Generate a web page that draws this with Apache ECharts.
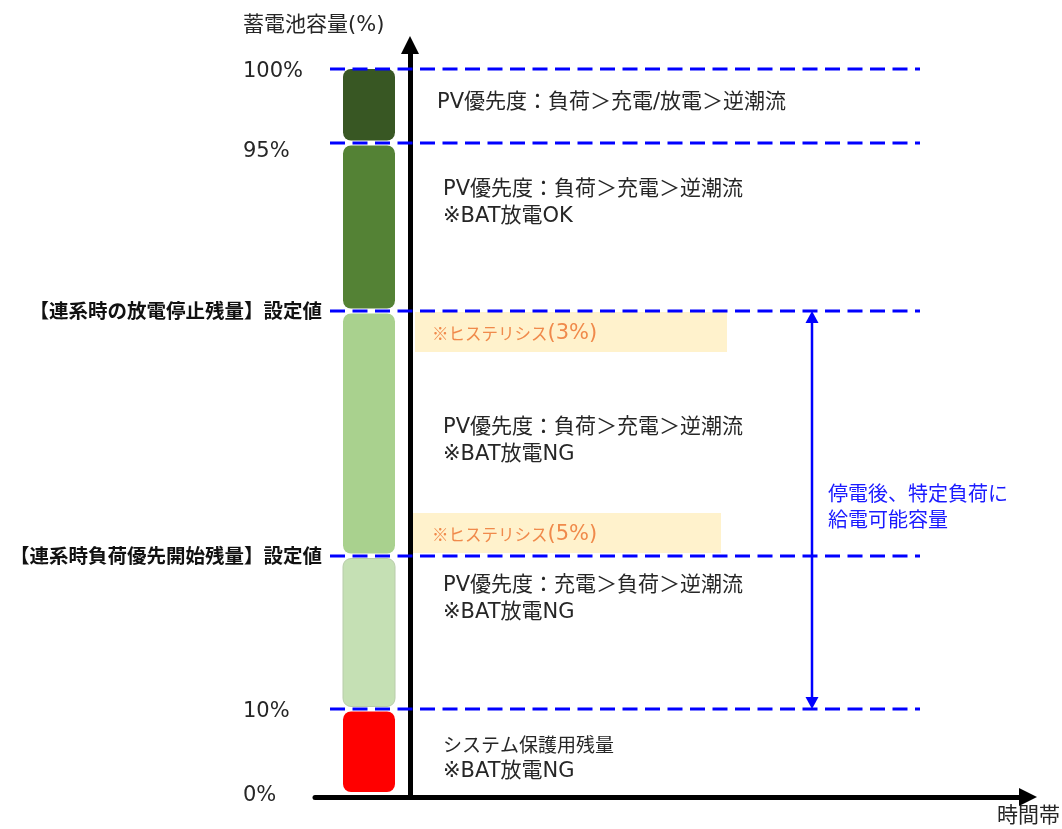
<!DOCTYPE html>
<html>
<head>
<meta charset="utf-8">
<script src="https://cdn.jsdelivr.net/npm/echarts@6/dist/echarts.min.js"></script>
<style>html,body{margin:0;padding:0;background:#fff}#c{width:1062px;height:829px}</style>
</head>
<body>
<div id="c"></div>
<script>
// ---- data (schematic capacity scale, 0% at 0) ----
const levelValues = [0, 84, 237, 482, 650, 724];
const levelLabels = ['0%', '10%', '【連系時負荷優先開始残量】設定値', '【連系時の放電停止残量】設定値', '95%', '100%'];
const segmentNames = ['システム保護用残量', '負荷優先', '放電停止', '放電OK', '充放電'];
const hysteresisBands = [[441, 481], [240, 280]];
const hysteresisLabels = ['※ヒステリシス(3%)', '※ヒステリシス(5%)'];
const zoneNotes = [
  ['PV優先度：負荷＞充電/放電＞逆潮流'],
  ['PV優先度：負荷＞充電＞逆潮流', '※BAT放電OK'],
  ['PV優先度：負荷＞充電＞逆潮流', '※BAT放電NG'],
  ['PV優先度：充電＞負荷＞逆潮流', '※BAT放電NG'],
  ['システム保護用残量', '※BAT放電NG']
];
const zoneNoteLevels = [692, 605, 367, 209, 50];
const backupRange = [84, 482];
const backupNote = ['停電後、特定負荷に', '給電可能容量'];
const yAxisTitle = '蓄電池容量(%)';
const xAxisTitle = '時間帯';

// ---- styles ----
const FONT = "'DejaVu Sans', 'Noto Sans CJK JP', sans-serif";
const CJK = "'Noto Sans CJK JP', sans-serif";
const segColors = ['#FF0000', '#C5E0B4', '#A9D18E', '#548235', '#385723'];
const TEXT = '#262626';

const segData = [];
for (let i = 0; i < levelValues.length - 1; i++) segData.push([levelValues[i], levelValues[i + 1], i]);
const topLevel = levelValues[levelValues.length - 1];

function noteText(lines) {
  return lines.map(function (l) { return /^[ァ-ヶー]/.test(l) ? '{k|' + l + '}' : '{n|' + l + '}'; }).join('\n');
}

const chart = echarts.init(document.getElementById('c'));
const option = {
  animation: false,
  title: {
    text: yAxisTitle, left: 238, top: 10,
    textStyle: { fontSize: 21, fontWeight: 'normal', color: TEXT, fontFamily: FONT }
  },
  grid: { left: 315, right: 34, top: 45, bottom: 32, outerBoundsMode: 'none' },
  xAxis: {
    type: 'value', min: -95, max: 618,
    axisLine: { onZero: false, symbol: ['none', 'triangle'], symbolSize: [18, 18], lineStyle: { color: '#000', width: 5 } },
    axisTick: { show: false }, axisLabel: { show: false }, splitLine: { show: false },
    name: xAxisTitle, nameLocation: 'end', nameGap: 32,
    nameTextStyle: { align: 'right', verticalAlign: 'top', padding: [9, 0, 0, 0], fontSize: 21, color: TEXT, fontFamily: FONT }
  },
  yAxis: {
    type: 'value', min: -4, max: 748,
    axisLine: { show: true, onZero: true, symbol: ['none', 'triangle'], symbolSize: [18, 18], lineStyle: { color: '#000', width: 5 } },
    axisTick: { show: false }, splitLine: { show: false },
    axisLabel: {
      customValues: levelValues, margin: -7, align: 'right',
      formatter: function (v) {
        const i = levelValues.indexOf(v);
        const t = levelLabels[i];
        if (t.indexOf('【') === 0) return '{b|' + t + '}';
        if (t === '95%') return '{q|' + t + '}';
        return '{p|' + t + '}';
      },
      rich: {
        p: { width: 79, align: 'left', fontSize: 21, color: TEXT, fontFamily: FONT, padding: [5, 0, 0, 0] },
        q: { width: 79, align: 'left', fontSize: 21, color: TEXT, fontFamily: FONT, padding: [17, 0, 0, 0] },
        b: { fontSize: 19.5, fontWeight: 'bold', color: '#111', fontFamily: CJK }
      }
    }
  },
  series: [
    {
      type: 'custom', name: 'segments', data: segData,
      renderItem: function (params, api) {
        const lo = api.value(0), hi = api.value(1), idx = api.value(2);
        const a = api.coord([-67, hi]);
        const b = api.coord([-15, lo]);
        const top = a[1] + (hi === topLevel ? 0 : 2.5);
        const bot = b[1] - (lo === 0 ? 1 : 2.5);
        return {
          type: 'rect',
          shape: { x: a[0], y: top, width: b[0] - a[0], height: bot - top, r: 8 },
          style: { fill: segColors[idx], stroke: idx === 1 ? '#B8CCAA' : null, lineWidth: 1 }
        };
      }
    },
    {
      type: 'custom', name: 'hysteresis', data: hysteresisBands,
      renderItem: function (params, api) {
        const lo = api.value(0), hi = api.value(1);
        const i = params.dataIndex;
        const xr = i === 0 ? 317 : 311;
        const xl = i === 0 ? 5 : 3;
        const a = api.coord([xl, hi]);
        const b = api.coord([xr, lo]);
        const m = api.coord([22, (lo + hi) / 2]);
        const parts = hysteresisLabels[i].split('(');
        return {
          type: 'group', children: [
            { type: 'rect', shape: { x: a[0], y: a[1], width: b[0] - a[0], height: b[1] - a[1] }, style: { fill: '#FFF2CC' } },
            { type: 'text', x: m[0], y: m[1] + 2, style: {
              text: '{k|' + parts[0] + '}{l|(' + parts[1] + '}',
              rich: { k: { fontSize: 16.5, fontFamily: CJK, fill: '#F08A4B' }, l: { fontSize: 21, fontFamily: FONT, fill: '#F08A4B' } },
              align: 'left', verticalAlign: 'middle' } }
          ]
        };
      }
    },
    {
      type: 'custom', name: 'levels', data: levelValues.filter(function (v) { return v > 0; }).map(function (v) { return [v]; }),
      renderItem: function (params, api) {
        const v = api.value(0);
        const a = api.coord([-80, v]);
        const b = api.coord([510, v]);
        return {
          type: 'line',
          shape: { x1: a[0], y1: a[1], x2: b[0], y2: b[1] },
          style: { stroke: '#0000FF', lineWidth: 3, lineDash: [15, 7.5] }
        };
      }
    },
    {
      type: 'custom', name: 'notes', data: zoneNoteLevels.map(function (v) { return [v]; }),
      renderItem: function (params, api) {
        const i = params.dataIndex;
        const p = api.coord([i === 0 ? 27 : 33, api.value(0)]);
        return {
          type: 'text', x: p[0], y: p[1] - 11.5,
          style: {
            text: noteText(zoneNotes[i]),
            rich: {
              n: { fontSize: 21, fontFamily: FONT, fill: TEXT, lineHeight: 26.5 },
              k: { fontSize: 19, fontFamily: CJK, fill: TEXT, lineHeight: 26.5 }
            },
            align: 'left', verticalAlign: 'top'
          }
        };
      }
    },
    {
      type: 'custom', name: 'backup', data: [backupRange],
      renderItem: function (params, api) {
        const lo = api.value(0), hi = api.value(1);
        const t = api.coord([402, hi]);
        const b = api.coord([402, lo]);
        const L = 12, W = 6.5;
        const tp = api.coord([420, (lo + hi) / 2]);
        return {
          type: 'group', children: [
            { type: 'line', shape: { x1: t[0], y1: t[1] + L - 1, x2: b[0], y2: b[1] - L + 1 }, style: { stroke: '#0000FF', lineWidth: 2.5 } },
            { type: 'polygon', shape: { points: [[t[0], t[1]], [t[0] - W, t[1] + L], [t[0] + W, t[1] + L]] }, style: { fill: '#0000FF' } },
            { type: 'polygon', shape: { points: [[b[0], b[1]], [b[0] - W, b[1] - L], [b[0] + W, b[1] - L]] }, style: { fill: '#0000FF' } },
            { type: 'text', x: tp[0] - 2, y: tp[1] - 30, style: { text: backupNote.join('\n'), fill: '#1A1AFF', font: '20px ' + CJK, lineHeight: 26.5, align: 'left', verticalAlign: 'top' } }
          ]
        };
      }
    }
  ]
};
chart.setOption(option);
</script>
</body>
</html>
